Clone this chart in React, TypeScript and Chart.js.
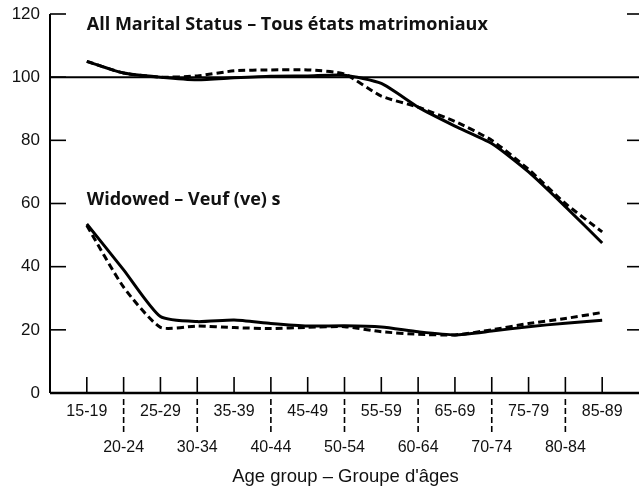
import React, { useEffect, useRef } from 'react';
import { Chart, registerables } from 'chart.js';

Chart.register(...registerables);

const categories = ['15-19', '20-24', '25-29', '30-34', '35-39', '40-44', '45-49', '50-54', '55-59', '60-64', '65-69', '70-74', '75-79', '80-84', '85-89'];
const allSolid = [105, 101.3, 100, 99.2, 99.8, 100.3, 100.4, 100.6, 98, 90.5, 84.5, 79, 70, 59, 47.5];
const allDashed = [105, 101.3, 100, 100.4, 102, 102.3, 102.3, 101, 94, 90.5, 86, 80, 70.8, 60, 51];
const widSolid = [53.5, 39, 24.2, 22.6, 23.1, 22, 21.2, 21.3, 20.9, 19.4, 18.4, 19.6, 21, 22.1, 23];
const widDashed = [53, 33.5, 20.8, 21.2, 20.7, 20.4, 20.8, 21, 19.4, 18.6, 18.4, 20, 22, 23.6, 25.5];
const yTicks = [0, 20, 40, 60, 80, 100, 120];
const rightTicks = [20, 40, 60, 80, 120];
const referenceValue = 100;
const titleAll = 'All Marital Status – Tous états matrimoniaux';
const titleWidowed = 'Widowed – Veuf (ve) s';
const xTitle = "Age group – Groupe d'âges";

const W = 639;
const H = 494;

const toPoints = (arr: number[]) => arr.map((v, i) => ({ x: i, y: v }));

const axesPlugin = {
  id: 'customAxes',
  beforeDatasetsDraw(chart: any) {
    const { ctx, chartArea, scales } = chart;
    const x = scales.x;
    const y = scales.y;
    const left = chartArea.left;
    const right = chartArea.right;
    const y0 = y.getPixelForValue(0);
    const line = (x1: number, y1: number, x2: number, y2: number) => {
      ctx.beginPath();
      ctx.moveTo(x1, y1);
      ctx.lineTo(x2, y2);
      ctx.stroke();
    };
    ctx.save();
    ctx.strokeStyle = '#000';
    ctx.fillStyle = '#111';
    // y axis
    ctx.lineWidth = 2;
    line(left, y.getPixelForValue(120), left, y0);
    // left ticks
    ctx.lineWidth = 1.6;
    yTicks.forEach((v) => {
      if (v > 0) line(left, y.getPixelForValue(v), left + 16, y.getPixelForValue(v));
    });
    rightTicks.forEach((v) => line(right - 12, y.getPixelForValue(v), right, y.getPixelForValue(v)));
    // reference line
    ctx.lineWidth = 2;
    line(left, y.getPixelForValue(referenceValue), right, y.getPixelForValue(referenceValue));
    // x axis
    ctx.lineWidth = 2.5;
    line(left, y0, right, y0);
    // category ticks
    ctx.lineWidth = 1.6;
    categories.forEach((c, i) => {
      const px = x.getPixelForValue(i);
      line(px, y0 - 16, px, y0);
      if (i % 2 === 1) {
        ctx.setLineDash([6, 3]);
        line(px, y0 + 6, px, y0 + 42);
        ctx.setLineDash([]);
      }
    });
    // y labels
    ctx.font = '17px "Liberation Sans", Arial, sans-serif';
    ctx.textAlign = 'right';
    ctx.textBaseline = 'middle';
    yTicks.forEach((v) => ctx.fillText(String(v), left - 10, y.getPixelForValue(v)));
    // x labels
    ctx.font = '16px "Liberation Sans", Arial, sans-serif';
    ctx.textAlign = 'center';
    categories.forEach((c, i) => {
      const px = x.getPixelForValue(i);
      ctx.fillText(c, px, i % 2 === 0 ? y0 + 19 : y0 + 55);
    });
    ctx.font = '18.5px "Liberation Sans", Arial, sans-serif';
    ctx.fillText(xTitle, (left + right) / 2 + 1, y0 + 84);
    // annotations
    ctx.font = 'bold 18px "Open Sans", sans-serif';
    ctx.textAlign = 'left';
    ctx.fillText(titleAll, x.getPixelForValue(0), y.getPixelForValue(116.5));
    ctx.fillText(titleWidowed, x.getPixelForValue(0), y.getPixelForValue(61.1));
    ctx.restore();
  },
};

export default function App() {
  const ref = useRef<HTMLCanvasElement | null>(null);
  useEffect(() => {
    if (!ref.current) return;
    const solid = { borderColor: '#000', borderWidth: 3, pointRadius: 0, tension: 0.2, fill: false };
    const dashed = { ...solid, borderDash: [7, 4] };
    const chart = new Chart(ref.current, {
      type: 'line',
      data: {
        datasets: [
          { label: 'All Marital Status (solid)', data: toPoints(allSolid), ...solid },
          { label: 'All Marital Status (dashed)', data: toPoints(allDashed), ...dashed },
          { label: 'Widowed (solid)', data: toPoints(widSolid), ...solid },
          { label: 'Widowed (dashed)', data: toPoints(widDashed), ...dashed },
        ],
      },
      options: {
        animation: false,
        responsive: false,
        maintainAspectRatio: false,
        layout: { padding: { left: 50, right: 0, top: 14, bottom: 101 } },
        plugins: { legend: { display: false }, tooltip: { enabled: false } },
        scales: {
          x: { type: 'linear', min: -1, max: 15, display: false },
          y: { type: 'linear', min: 0, max: 120, display: false },
        },
      },
      plugins: [axesPlugin],
    } as any);
    return () => chart.destroy();
  }, []);
  return (
    <div style={{ position: 'absolute', left: 0, top: 0, width: W, height: H, background: '#fff' }}>
      <canvas ref={ref} width={W} height={H} style={{ width: W, height: H, display: 'block' }} />
    </div>
  );
}
